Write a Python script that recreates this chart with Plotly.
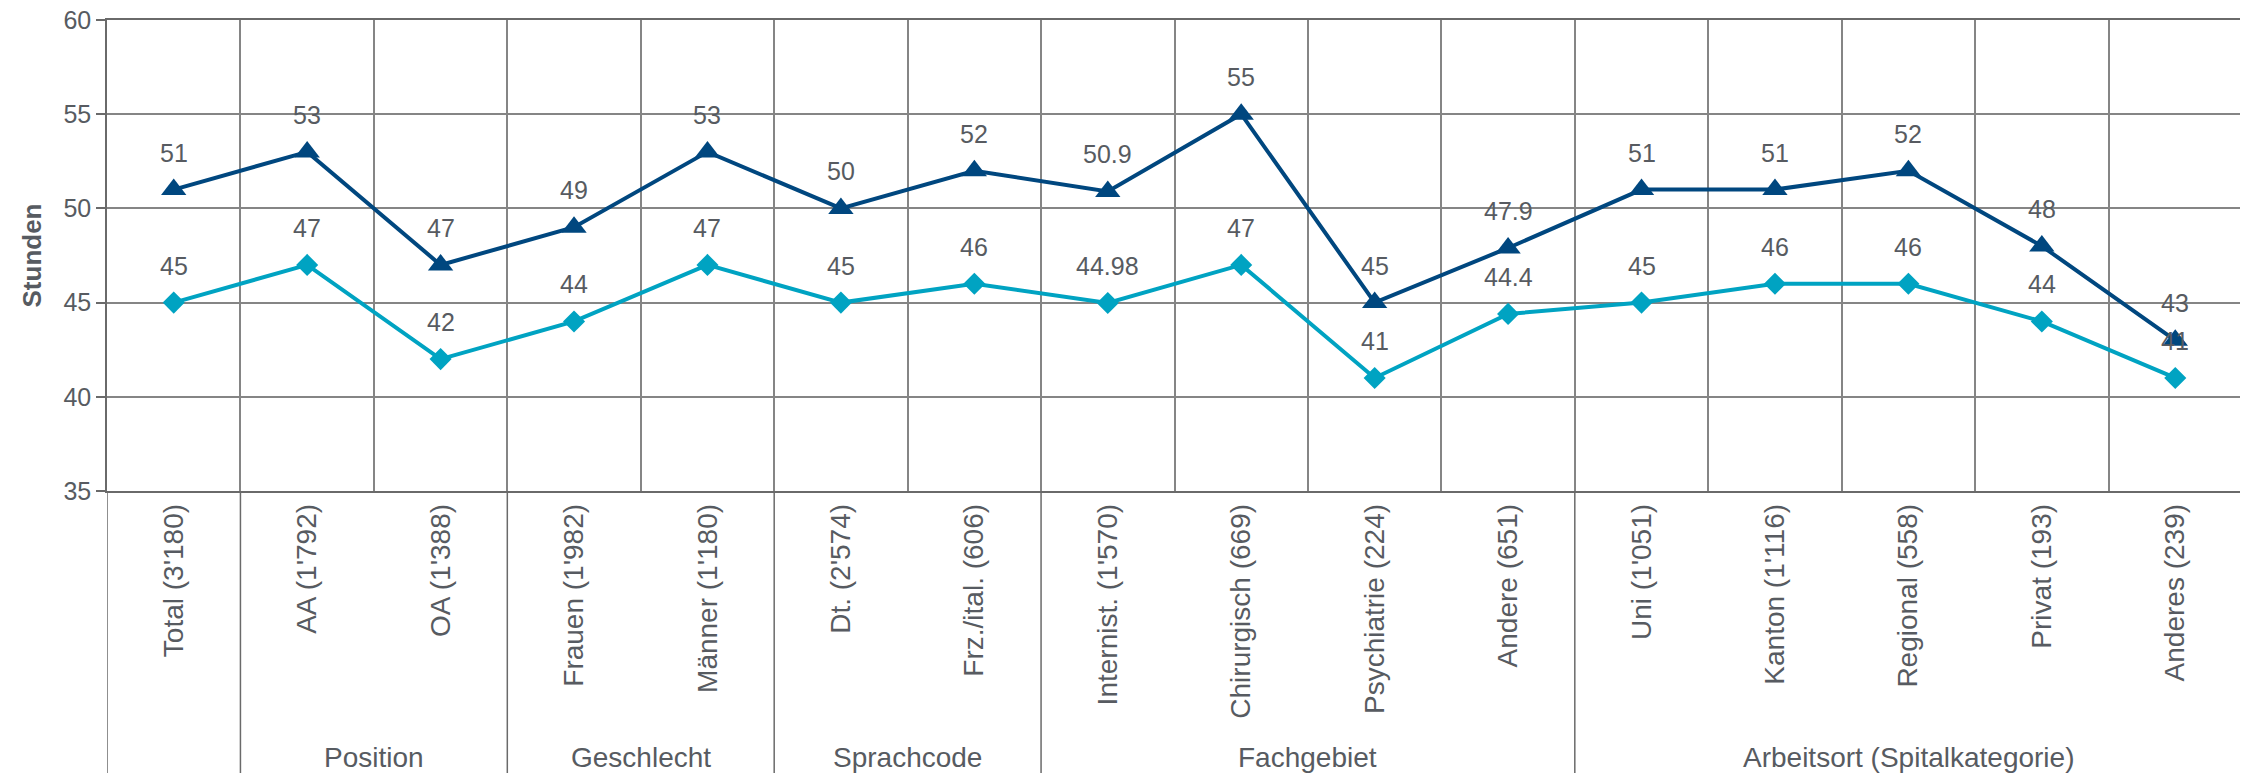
import plotly.graph_objects as go

categories = ["Total (3'180)", "AA (1'792)", "OA (1'388)", "Frauen (1'982)", "Männer (1'180)",
              "Dt. (2'574)", "Frz./ital. (606)", "Internist. (1'570)", "Chirurgisch (669)",
              "Psychiatrie (224)", "Andere (651)", "Uni (1'051)", "Kanton (1'116)",
              "Regional (558)", "Privat (193)", "Anderes (239)"]
upper_values = [51, 53, 47, 49, 53, 50, 52, 50.9, 55, 45, 47.9, 51, 51, 52, 48, 43]
lower_values = [45, 47, 42, 44, 47, 45, 46, 44.98, 47, 41, 44.4, 45, 46, 46, 44, 41]
group_names = ["", "Position", "Geschlecht", "Sprachcode", "Fachgebiet", "Arbeitsort (Spitalkategorie)"]
group_sizes = [1, 2, 2, 2, 4, 5]

DARK = "#00477F"
LIGHT = "#00A3C2"
TEXT = "#575B61"
GRID = "#858585"
AXIS = "#6A6A6A"
FONT = "Liberation Sans, Arial, sans-serif"

fig = go.Figure()
fig.add_trace(go.Scatter(x=categories, y=lower_values, mode="lines+markers",
                         line=dict(color=LIGHT, width=4),
                         marker=dict(symbol="diamond", size=17, color=LIGHT),
                         showlegend=False, hoverinfo="x+y"))
fig.add_trace(go.Scatter(x=categories, y=upper_values, mode="lines+markers",
                         line=dict(color=DARK, width=4),
                         marker=dict(symbol="triangle-up", size=22, color=DARK),
                         showlegend=False, hoverinfo="x+y"))

annotations = []
for series in (upper_values, lower_values):
    for c, v in zip(categories, series):
        annotations.append(dict(x=c, y=v, xref="x", yref="y", text=f"{v:g}",
                                showarrow=False, yshift=37,
                                font=dict(family=FONT, size=25, color=TEXT)))

# group labels and separators
shapes = []
start = 0
n = len(categories)
bounds = [-0.5]
for name, size in zip(group_names, group_sizes):
    end = start + size
    center = (start + end - 1) / 2
    if name:
        annotations.append(dict(x=center, y=-0.565, xref="x", yref="paper", text=name,
                                showarrow=False, yanchor="middle",
                                font=dict(family=FONT, size=28, color=TEXT)))
    bounds.append(end - 0.5)
    start = end
for b in bounds:
    shapes.append(dict(type="line", xref="x", yref="paper", x0=b, x1=b, y0=0, y1=-0.62,
                       line=dict(color=AXIS, width=1.5)))

# page body has an 8px default margin -> figure is 8px smaller and offset
fig.update_layout(
    width=2240, height=765,
    margin=dict(l=99, r=6, t=12, b=282),
    plot_bgcolor="white", paper_bgcolor="white",
    annotations=annotations, shapes=shapes,
    xaxis=dict(type="category", tickson="boundaries", showgrid=True, gridcolor=GRID, gridwidth=1.5,
               showline=True, mirror=True, linecolor=AXIS, linewidth=1.5, ticks="", tickangle=-90,
               tickfont=dict(family=FONT, size=28, color=TEXT), range=[-0.5, n - 0.5],
               automargin=False, fixedrange=True, ticklabeloverflow="allow"),
    yaxis=dict(range=[35, 60], dtick=5, showgrid=True, gridcolor=GRID, gridwidth=1.5,
               showline=True, mirror=True, linecolor=AXIS, linewidth=1.5, ticks="outside", ticklen=9,
               tickcolor=AXIS, tickwidth=1.5, zeroline=False, automargin=False,
               ticklabeloverflow="allow",
               tickfont=dict(family=FONT, size=25, color=TEXT),
               title=dict(text="<b>Stunden</b>", standoff=14,
                          font=dict(family=FONT, size=26, color=TEXT))),
)

fig.write_html("out.html")
